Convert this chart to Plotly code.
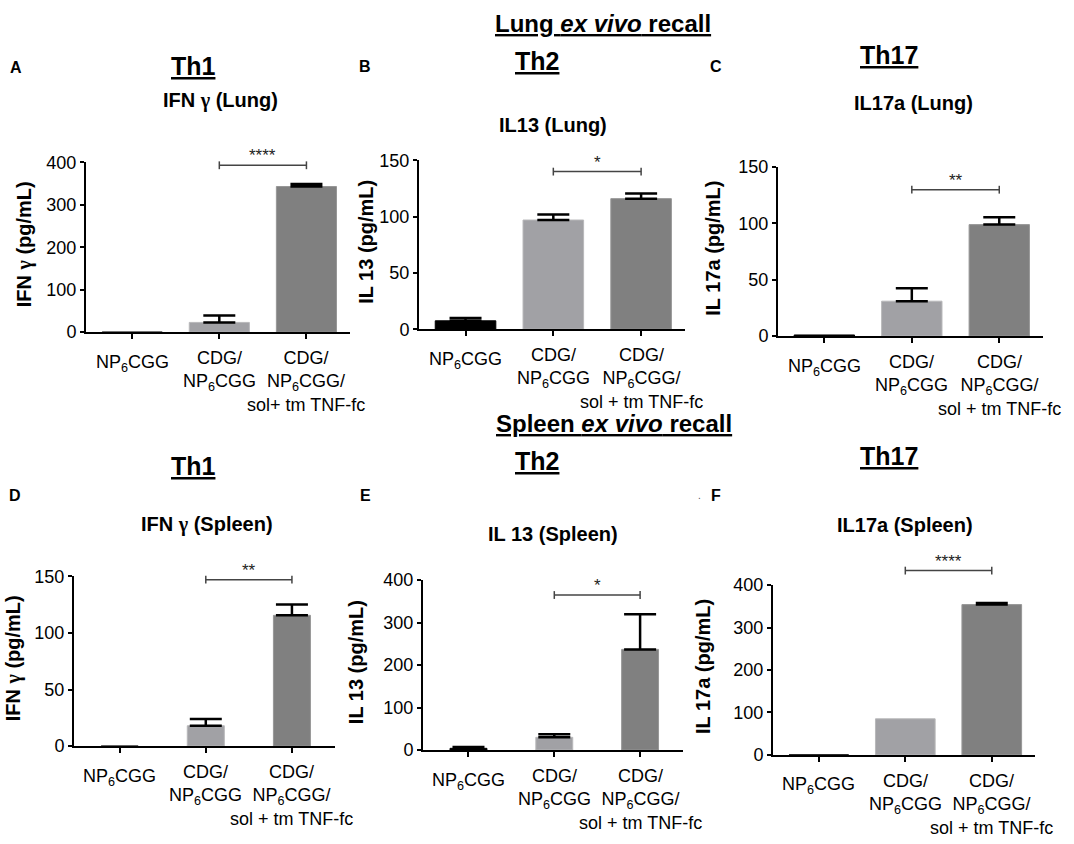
import plotly.graph_objects as go

W, H = 1074, 844
FONT = "Arial, Liberation Sans, sans-serif"
GAMMA = '<span style="font-family:Liberation Serif">γ</span>'

# x categories
groups = ["NP<sub>6</sub>CGG",
          "CDG/<br>NP<sub>6</sub>CGG",
          "CDG/<br>NP<sub>6</sub>CGG/<br>sol + tm TNF-fc"]
groups_a = ["NP<sub>6</sub>CGG",
            "CDG/<br>NP<sub>6</sub>CGG",
            "CDG/<br>NP<sub>6</sub>CGG/<br>sol+ tm TNF-fc"]

# mean / SEM (pg/mL)
ifn_lung_mean = [0, 23, 343]
ifn_lung_sem = [0, 16, 6]
il13_lung_mean = [7.5, 97, 116]
il13_lung_sem = [2.5, 5, 4.5]
il17_lung_mean = [1, 31, 99]
il17_lung_sem = [0, 11.5, 6.5]
ifn_spleen_mean = [0, 18, 115.5]
ifn_spleen_sem = [0, 6, 9.5]
il13_spleen_mean = [4, 30, 237]
il13_spleen_sem = [3, 7, 83]
il17_spleen_mean = [0, 85, 354]
il17_spleen_sem = [0, 0, 4]

letters = ["A", "B", "C", "D", "E", "F"]
th_labels = ["Th1", "Th2", "Th17", "Th1", "Th2", "Th17"]
titles = ["IFN " + GAMMA + " (Lung)", "IL13 (Lung)", "IL17a (Lung)",
          "IFN " + GAMMA + " (Spleen)", "IL 13 (Spleen)", "IL17a (Spleen)"]
y_titles = ["IFN " + GAMMA + " (pg/mL)", "IL 13 (pg/mL)", "IL 17a (pg/mL)",
            "IFN " + GAMMA + " (pg/mL)", "IL 13 (pg/mL)", "IL 17a (pg/mL)"]
y_max = [400, 150, 150, 150, 400, 400]
y_step = [100, 50, 50, 50, 100, 100]
sig_stars = ["****", "*", "**", "**", "*", "****"]
sig_y = [393, 140, 130, 147, 365, 434]

means = [ifn_lung_mean, il13_lung_mean, il17_lung_mean,
         ifn_spleen_mean, il13_spleen_mean, il17_spleen_mean]
sems = [ifn_lung_sem, il13_lung_sem, il17_lung_sem,
        ifn_spleen_sem, il13_spleen_sem, il17_spleen_sem]
cat_labels = [groups_a, groups, groups, groups, groups, groups]

bar_colors = ["#000000", "#A1A1A5", "#808080"]
edge_colors = ["#000000", "#B8B8BA", "#979797"]

# plot boxes in pixels: left, right, top, bottom
boxes = [(86, 350, 156, 330), (419, 685, 154, 327), (778, 1043, 161, 334),
         (74, 335, 580, 754), (423, 683, 584, 758), (773, 1035, 589, 763)]
bar_w = [0.69, 0.69, 0.69, 0.43, 0.43, 0.69]
ytitle_x = [24, 366, 713, 13, 356, 703]
title_pos = [(220, 93), (553, 118), (913, 95), (207, 527), (553, 537), (905, 528)]
th_pos = [(193, 57), (537, 52), (889, 46), (193, 467), (537, 462), (889, 457)]
letter_pos = [(16, 59), (365, 58), (716, 58), (15, 497), (365, 497), (716, 497)]


def px(x):
    return x / W


def py(y):
    return 1 - y / H


fig = go.Figure()
annotations = []
shapes = []

for i in range(6):
    n = "" if i == 0 else str(i + 1)
    xa, ya = "x" + n, "y" + n
    left, right, top, bottom = boxes[i]

    fig.add_trace(go.Bar(
        x=[0, 1, 2], y=means[i], width=bar_w[i],
        marker=dict(color=bar_colors, line=dict(color=edge_colors, width=1)),
        xaxis=xa, yaxis=ya, showlegend=False))

    # upward SEM bars, only where there is one
    ex = [k for k in range(3) if sems[i][k] > 0]
    fig.add_trace(go.Scatter(
        x=ex, y=[means[i][k] for k in ex], mode="markers",
        marker=dict(color="rgba(0,0,0,0)", size=1),
        error_y=dict(type="data", symmetric=False,
                     array=[sems[i][k] for k in ex],
                     arrayminus=[0] * len(ex),
                     color="black", thickness=2.5, width=16),
        xaxis=xa, yaxis=ya, showlegend=False))

    # significance bracket between groups 2 and 3 (may sit above the axis top)
    yb = py(bottom) + sig_y[i] / y_max[i] * (py(top) - py(bottom))
    cap = 4 / H
    bl = dict(color="#444444", width=1.5)
    shapes.append(dict(type="line", xref=xa, yref="paper", x0=1, x1=2, y0=yb, y1=yb, line=bl))
    for xe in (1, 2):
        shapes.append(dict(type="line", xref=xa, yref="paper", x0=xe, x1=xe,
                           y0=yb - cap, y1=yb + cap, line=bl))
    annotations.append(dict(
        x=1.5, y=yb, xref=xa, yref="paper", text=sig_stars[i],
        showarrow=False, yanchor="bottom", yshift=-2,
        font=dict(size=17, color="#222222", family=FONT)))

    fig.layout["xaxis" + n] = dict(
        domain=[px(left), px(right)], anchor=ya, range=[-0.53, 2.5],
        showline=True, linecolor="black", linewidth=2,
        ticks="outside", ticklen=5, tickwidth=2, tickcolor="black",
        tickvals=[0, 1, 2], showticklabels=False,
        showgrid=False, zeroline=False, fixedrange=True)
    fig.layout["yaxis" + n] = dict(
        domain=[py(bottom), py(top)], anchor=xa, range=[0, y_max[i]],
        dtick=y_step[i], showline=True, linecolor="black", linewidth=2,
        ticks="outside", ticklen=4, tickwidth=2, tickcolor="black",
        tickfont=dict(size=18, color="black", family=FONT),
        showgrid=False, zeroline=False, fixedrange=True)

    # category labels under the axis
    for k in range(3):
        single = "<br>" not in cat_labels[i][k]
        annotations.append(dict(
            x=k, y=0, xref=xa, yref=ya, text=cat_labels[i][k],
            showarrow=False, align="center",
            yanchor="middle" if single else "top",
            yshift=-31 if single else -14,
            font=dict(size=18, color="black", family=FONT)))

    annotations.append(dict(
        x=px(ytitle_x[i]), y=py((top + bottom) / 2 - 3), xref="paper", yref="paper",
        text="<b>" + y_titles[i] + "</b>", textangle=-90, showarrow=False,
        xanchor="center", yanchor="middle",
        font=dict(size=20, color="black", family=FONT)))
    annotations.append(dict(
        x=px(title_pos[i][0]), y=py(title_pos[i][1]), xref="paper", yref="paper",
        text="<b>" + titles[i] + "</b>", showarrow=False,
        xanchor="center", yanchor="middle",
        font=dict(size=20, color="black", family=FONT)))
    annotations.append(dict(
        x=px(th_pos[i][0]), y=py(th_pos[i][1]), xref="paper", yref="paper",
        text="<b>" + th_labels[i] + "</b>", showarrow=False,
        xanchor="center", yanchor="middle",
        font=dict(size=25, color="black", family=FONT, lineposition="under")))
    annotations.append(dict(
        x=px(letter_pos[i][0]), y=py(letter_pos[i][1]), xref="paper", yref="paper",
        text="<b>" + letters[i] + "</b>", showarrow=False,
        xanchor="center", yanchor="middle",
        font=dict(size=16, color="black", family=FONT)))

# section headers
for label, (hx, hy) in [("Lung <i>ex vivo</i> recall", (603, 14)),
                        ("Spleen <i>ex vivo</i> recall", (614, 424))]:
    annotations.append(dict(
        x=px(hx), y=py(hy), xref="paper", yref="paper",
        text="<b>" + label + "</b>", showarrow=False,
        xanchor="center", yanchor="middle",
        font=dict(size=24, color="black", family=FONT, lineposition="under")))

annotations.append(dict(
    x=px(699), y=py(497), xref="paper", yref="paper", text=".",
    showarrow=False, font=dict(size=10, color="#555555", family=FONT)))

fig.update_layout(
    width=W, height=H,
    margin=dict(l=0, r=0, t=0, b=0),
    paper_bgcolor="white", plot_bgcolor="white",
    font=dict(family=FONT, color="black"),
    annotations=annotations,
    shapes=shapes,
    showlegend=False)

fig.write_html("out.html", config={"displayModeBar": False},
               post_script="document.body.style.margin='0px';")
